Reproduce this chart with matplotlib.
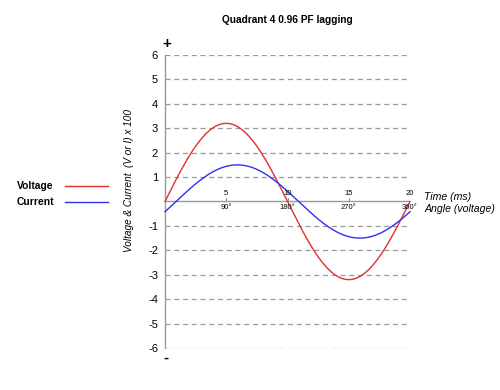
import numpy as np
import matplotlib
matplotlib.use("Agg")
import matplotlib.pyplot as plt

plt.rcParams['font.family'] = ['Liberation Sans', 'DejaVu Sans']

# Data
title = "Quadrant 4 0.96 PF lagging"
time_ticks = [5, 10, 15, 20]
angle_labels = ["90°", "180°", "270°", "360°"]
y_ticks = [6, 5, 4, 3, 2, 1, -1, -2, -3, -4, -5, -6]
period_ms = 20.0
voltage_peak = 3.2
current_peak = 1.5
power_factor = 0.96

fig = plt.figure(figsize=(5.0, 3.9), dpi=100)
ax = fig.add_axes([0.33, 0.1077, 0.49, 0.7513])

t = np.linspace(0, period_ms, 400)
lag = np.arccos(power_factor)
voltage = voltage_peak * np.sin(2 * np.pi * t / period_ms)
current = current_peak * np.sin(2 * np.pi * t / period_ms - lag)

ax.set_xlim(0, period_ms)
ax.set_ylim(-6, 6)

for y in y_ticks:
    ax.axhline(y, color='#999999', lw=0.9, ls=(0, (4, 3)), zorder=1)
ax.axhline(0, color='#999999', lw=1.0, zorder=1)

ax.plot(t, voltage, color='#e03030', lw=1.0, zorder=3, clip_on=False)
ax.plot(t, current, color='#3030ee', lw=1.0, zorder=3, clip_on=False)

for s in ['top', 'right', 'bottom']:
    ax.spines[s].set_visible(False)
ax.spines['left'].set_color('#999999')
ax.spines['left'].set_linewidth(1.0)

ax.set_xticks([])
ax.set_yticks(y_ticks)
ax.set_yticklabels([str(v) for v in y_ticks], fontsize=8)
ax.tick_params(axis='y', length=0, pad=5)

for tt, al in zip(time_ticks, angle_labels):
    ax.plot([tt, tt], [0, 0.15], color='#999999', lw=0.8, zorder=2)
    ax.text(tt, 0.2, str(tt), ha='center', va='bottom', fontsize=5.5)
    ax.text(tt, -0.12, al, ha='center', va='top', fontsize=5.5)

ax.text(21.15, 0.2, "Time (ms)", ha='left', va='center', fontsize=7.6, style='italic')
ax.text(21.15, -0.32, "Angle (voltage)", ha='left', va='center', fontsize=7.6, style='italic')

fig.text(0.333, 0.888, "+", ha='center', va='center', fontsize=11, fontweight='bold')
fig.text(0.332, 0.082, "-", ha='center', va='center', fontsize=11, fontweight='bold')

fig.text(0.575, 0.949, title, ha='center', va='center', fontsize=7.3, fontweight='bold')

fig.text(0.258, 0.538, "Voltage & Current  (V or I) x 100", rotation=90,
         ha='center', va='center', fontsize=7.2, style='italic')

fig.text(0.034, 0.523, "Voltage", ha='left', va='center', fontsize=7.4, fontweight='bold')
fig.text(0.034, 0.483, "Current", ha='left', va='center', fontsize=7.4, fontweight='bold')
fig.add_artist(plt.Line2D([0.13, 0.216], [0.523, 0.523], color='#e03030', lw=1.0))
fig.add_artist(plt.Line2D([0.13, 0.216], [0.483, 0.483], color='#3030ee', lw=1.0))

fig.savefig("out.png", dpi=100, facecolor='white')
